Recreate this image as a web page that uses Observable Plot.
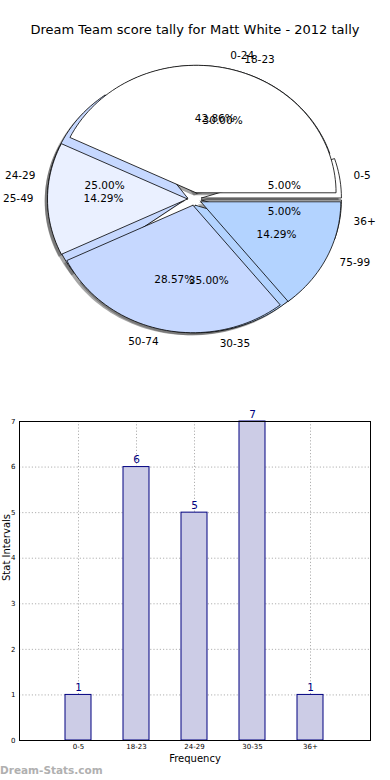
<!DOCTYPE html>
<html>
<head>
<meta charset="utf-8">
<script src="https://cdn.jsdelivr.net/npm/d3@7"></script>
<script src="https://cdn.jsdelivr.net/npm/@observablehq/plot@0.6"></script>
<style>
  html, body { margin: 0; padding: 0; background: #fff; }
  body { width: 390px; height: 780px; position: relative; overflow: hidden; font-family: "DejaVu Sans", sans-serif; }
  #title { position: absolute; left: 0; top: 22px; width: 390px; text-align: center; font-size: 13px; color: #000; }
  #pie { position: absolute; left: 0; top: 0; }
  #bar { position: absolute; left: 0; top: 400px; }
  #wm { position: absolute; left: 0; top: 764px; font-size: 10.5px; font-weight: bold; color: #b0b0b0; }
  svg { font-family: "DejaVu Sans", sans-serif; }
</style>
</head>
<body>
<div id="pie"></div>
<div id="title">Dream Team score tally for Matt White - 2012 tally</div>
<div id="bar"></div>
<div id="wm">Dream-Stats.com</div>
<script>
// ---- data ----
const scoreLabels = ["0-5", "18-23", "24-29", "30-35", "36+"];
const scoreCounts = [1, 6, 5, 7, 1];
const rangeLabels = ["0-24", "25-49", "50-74", "75-99"];
const rangeCounts = [3, 1, 2, 1];
const yTicks = [0, 1, 2, 3, 4, 5, 6, 7];

// ---- styles ----
const scoreColors = ["#ffffff", "#eaf0ff", "#c6d8ff", "#b3d3ff", "#ffffff"];
const rangeColors = ["#ffffff", "#eaf0ff", "#c6d8ff", "#b3d3ff"];
const explode = 0.05;

function buildPie(labels, values, colors, tag) {
  const total = d3.sum(values);
  const pts = [], labs = [];
  let cum = 0;
  labels.forEach((lab, i) => {
    const a0 = 2 * Math.PI * cum / total;
    cum += values[i];
    const a1 = 2 * Math.PI * cum / total;
    const mid = (a0 + a1) / 2;
    const ox = explode * Math.cos(mid), oy = explode * Math.sin(mid);
    const id = tag + i;
    const n = Math.max(2, Math.ceil((a1 - a0) / (2 * Math.PI) * 180));
    pts.push({id, x: ox, y: oy, color: colors[i]});
    for (let k = 0; k <= n; k++) {
      const a = a0 + (a1 - a0) * k / n;
      pts.push({id, x: ox + Math.cos(a), y: oy + Math.sin(a), color: colors[i]});
    }
    pts.push({id, x: ox, y: oy, color: colors[i]});
    labs.push({
      label: lab,
      lx: ox + 1.1 * Math.cos(mid), ly: oy + 1.1 * Math.sin(mid),
      px: ox + 0.6 * Math.cos(mid), py: oy + 0.6 * Math.sin(mid),
      pct: (values[i] / total * 100).toFixed(2) + "%",
      right: Math.cos(mid) > 0
    });
  });
  return {pts, labs};
}

const p1 = buildPie(scoreLabels, scoreCounts, scoreColors, "s");
const p2 = buildPie(rangeLabels, rangeCounts, rangeColors, "r");
const allLabs = p1.labs.concat(p2.labs);

const pie = Plot.plot({
  width: 390, height: 380,
  margin: 0,
  x: {domain: [-1, 1], range: [54, 334], axis: null},
  y: {domain: [-1, 1], range: [326, 71], axis: null},
  color: {type: "identity"},
  marks: [
    Plot.line(p1.pts, {x: "x", y: "y", z: "id", fill: "#4d4d4d", fillOpacity: 0.5, stroke: "none", dx: -2.8, dy: 2.5}),
    Plot.line(p2.pts, {x: "x", y: "y", z: "id", fill: "#4d4d4d", fillOpacity: 0.5, stroke: "none", dx: -2.8, dy: 2.5}),
    Plot.line(p1.pts, {x: "x", y: "y", z: "id", fill: "color", stroke: "#000", strokeWidth: 0.8, strokeLinejoin: "miter"}),
    Plot.line(p2.pts, {x: "x", y: "y", z: "id", fill: "color", stroke: "#000", strokeWidth: 0.8, strokeLinejoin: "miter"}),
    Plot.text(allLabs.filter(d => d.right), {x: "lx", y: "ly", text: "label", textAnchor: "start", fontSize: 10.5, fill: "#000"}),
    Plot.text(allLabs.filter(d => !d.right), {x: "lx", y: "ly", text: "label", textAnchor: "end", fontSize: 10.5, fill: "#000"}),
    Plot.text(allLabs, {x: "px", y: "py", text: "pct", fontSize: 10.5, fill: "#000"})
  ]
});
document.getElementById("pie").appendChild(pie);

// ---- bar chart ----
const barData = scoreLabels.map((c, i) => ({cat: c, v: scoreCounts[i]}));
const bar = Plot.plot({
  width: 390, height: 380,
  marginTop: 21, marginBottom: 40, marginLeft: 19, marginRight: 20,
  x: {domain: scoreLabels, paddingInner: 0.55, paddingOuter: 0.775, label: null},
  y: {domain: [0, 7], label: null},
  marks: [
    Plot.ruleX(scoreLabels, {x: d => d, stroke: "#b0b0b0", strokeDasharray: "1.2,2", strokeWidth: 1}),
    Plot.ruleY(yTicks.slice(1), {y: d => d, stroke: "#b0b0b0", strokeDasharray: "1.2,2", strokeWidth: 1}),
    Plot.barY(barData, {x: "cat", y: "v", fill: "#ccccE6", stroke: "#000080", strokeWidth: 1}),
    Plot.text(barData, {x: "cat", y: "v", text: d => String(d.v), lineAnchor: "bottom", dy: -4, fontSize: 10.5, fill: "#000080"}),
    Plot.frame({stroke: "#000", strokeWidth: 1}),
    Plot.axisY({ticks: yTicks, tickFormat: d => String(d), tickSize: 0, tickPadding: 4, fontSize: 7, label: null}),
    Plot.axisX({tickSize: 0, tickPadding: 4, fontSize: 7, label: null}),
    Plot.text(["Frequency"], {frameAnchor: "bottom", dy: 21, fontSize: 10, fill: "#000"}),
    Plot.text(["Stat Intervals"], {frameAnchor: "left", dx: -13, rotate: -90, fontSize: 10, fill: "#000"})
  ]
});
document.getElementById("bar").appendChild(bar);
</script>
</body>
</html>
